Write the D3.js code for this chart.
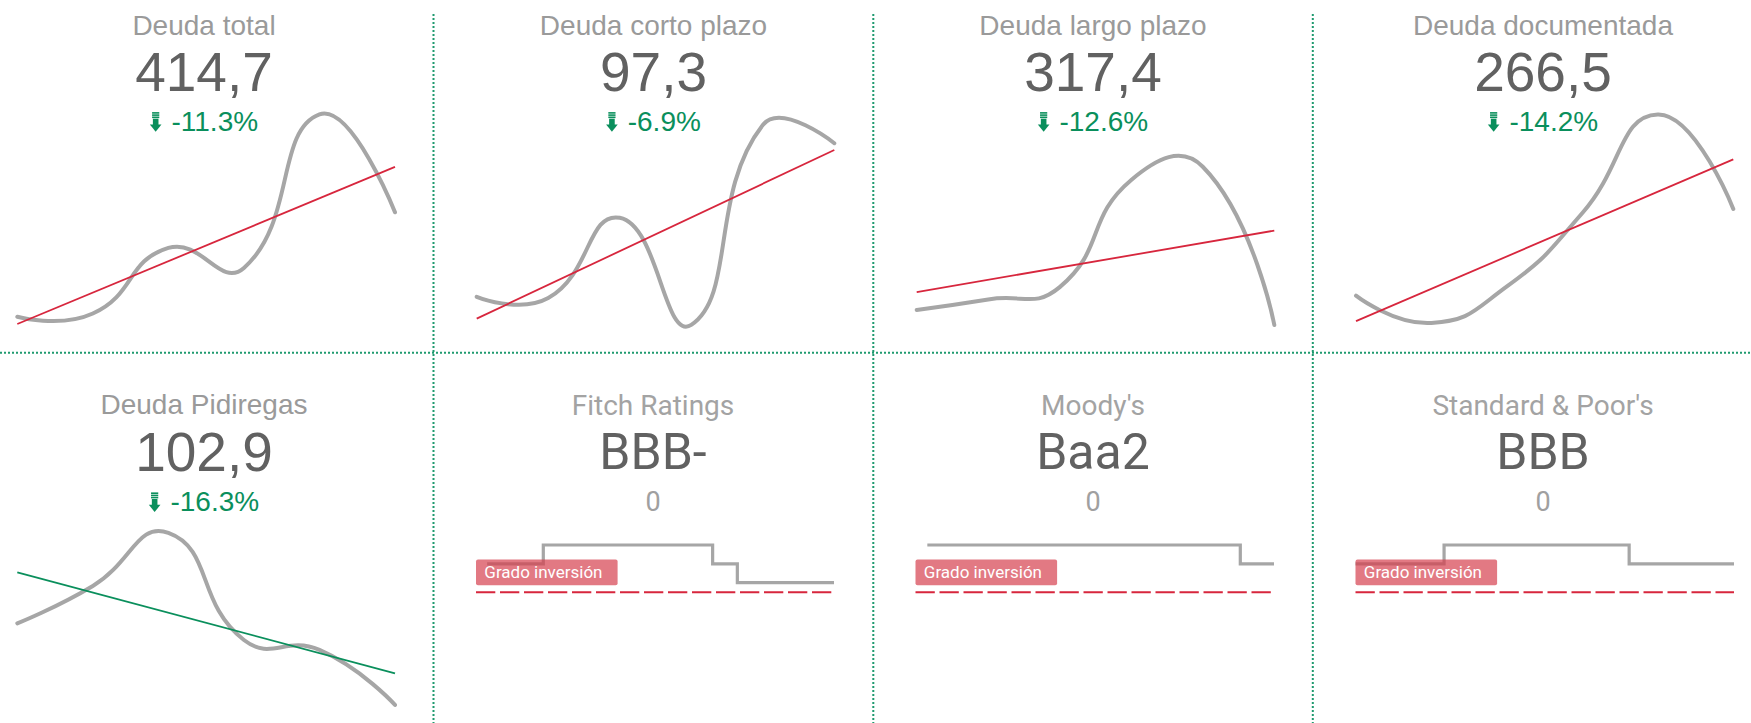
<!DOCTYPE html>
<html><head><meta charset="utf-8">
<script src="https://cdn.jsdelivr.net/npm/d3@7"></script>
<style>html,body{margin:0;padding:0;background:#fff;}svg{display:block}</style>
</head><body>
<svg id="c" width="1751" height="723"></svg>
<script>
// ---------- DATA ----------
const debtTitles = ["Deuda total", "Deuda corto plazo", "Deuda largo plazo", "Deuda documentada", "Deuda Pidiregas"];
const debtValues = ["414,7", "97,3", "317,4", "266,5", "102,9"];
const debtChanges = ["-11.3%", "-6.9%", "-12.6%", "-14.2%", "-16.3%"];
const periods = [1, 2, 3, 4, 5, 6];
const seriesTotal = [6.0, 7.5, 37.3, 28.2, 98.0, 53.5];
const seriesCorto = [15.1, 14.5, 51.0, 2.3, 93.2, 84.9];
const seriesLargo = [9.1, 13.9, 19.5, 68.2, 74.2, 2.3];
const seriesDocumentada = [15.6, 3.2, 19.8, 53.2, 98.0, 55.0];
const seriesPidiregas = [39.4, 56.4, 80.5, 31.8, 27.3, 2.3];
const debtSeries = [seriesTotal, seriesCorto, seriesLargo, seriesDocumentada, seriesPidiregas];

const ratingTitles = ["Fitch Ratings", "Moody's", "Standard & Poor's"];
const ratingValues = ["BBB-", "Baa2", "BBB"];
const ratingSubtitles = ["0", "0", "0"];
// rating level: 1 = BBB-/Baa3, 2 = BBB/Baa2, 3 = BBB+/Baa1 ; x = share of period (0-100)
const fitchHistory = [[3.1, 2], [18.8, 3], [66.1, 2], [73.0, 1], [100, 1]];
const moodysHistory = [[3.3, 3], [90.6, 2], [100, 2]];
const spHistory = [[0, 2], [23.4, 3], [72.3, 2], [100, 2]];
const ratingHistories = [fitchHistory, moodysHistory, spHistory];
const investmentGradeLevel = 0.5;
const investmentLabel = "Grado inversión";

// ---------- LAYOUT / STYLE ----------
const W = 1751, H = 723;
const debtLayout = [
  {cx: 204, x0: 17.3, x1: 395, row: 0},
  {cx: 653.5, x0: 476.7, x1: 834.3, row: 0},
  {cx: 1093, x0: 916.7, x1: 1274.3, row: 0},
  {cx: 1543, x0: 1356, x1: 1733.3, row: 0},
  {cx: 204, x0: 17.3, x1: 395, row: 1}
];
const rowGeom = [
  {title: 35, value: 91, pct: 130.7, yTop: 110, yBot: 330},
  {title: 414, value: 471, pct: 511, yTop: 490, yBot: 710}
];
const ratingLayout = [
  {cx: 653, x0: 476, x1: 834},
  {cx: 1093, x0: 915.5, x1: 1274},
  {cx: 1543, x0: 1355.5, x1: 1734}
];
const C = {
  title: "#9a9a9a", value: "#616161", green: "#0a8f5c", red: "#d7263d",
  line: "#a6a6a6", grid: "#1f9a6f", rtitle: "#a3a3a3", sub: "#a0a0a0"
};
const ARIAL = "'Liberation Sans', Arial, Helvetica, sans-serif";
const ROBOTO = "Roboto, 'Noto Sans', sans-serif";

const svg = d3.select("#c");

// ---------- ECharts-like smooth curve ----------
function SmoothCurve(ctx) { this._context = ctx; }
SmoothCurve.prototype = {
  areaStart() {}, areaEnd() {},
  lineStart() { this._pts = []; },
  point(x, y) { this._pts.push([+x, +y]); },
  lineEnd() {
    const p = this._pts, n = p.length, ctx = this._context, s = 0.5;
    if (!n) return;
    ctx.moveTo(p[0][0], p[0][1]);
    let cp1 = [p[0][0], p[0][1]];
    for (let i = 1; i < n; i++) {
      const cur = p[i];
      let cp0, next1 = null;
      if (i === n - 1) cp0 = [cur[0], cur[1]];
      else {
        const prev = p[i - 1], nxt = p[i + 1];
        const vx = nxt[0] - prev[0], vy = nxt[1] - prev[1];
        const lp = Math.hypot(cur[0] - prev[0], cur[1] - prev[1]);
        const ln = Math.hypot(nxt[0] - cur[0], nxt[1] - cur[1]);
        const r = ln / (ln + lp);
        cp0 = [cur[0] - vx * s * (1 - r), cur[1] - vy * s * (1 - r)];
        next1 = [cur[0] + vx * s * r, cur[1] + vy * s * r];
      }
      ctx.bezierCurveTo(cp1[0], cp1[1], cp0[0], cp0[1], cur[0], cur[1]);
      cp1 = next1;
    }
  }
};
const curveSmooth = ctx => new SmoothCurve(ctx);

// ---------- grid dividers ----------
const grid = svg.append("g").attr("stroke", C.grid).attr("stroke-width", 2).attr("stroke-dasharray", "2,2");
[433.5, 873.3, 1312.8].forEach(x => grid.append("line").attr("x1", x).attr("x2", x).attr("y1", 14).attr("y2", H));
grid.append("line").attr("x1", 0).attr("x2", W).attr("y1", 352.8).attr("y2", 352.8);

// ---------- icon ----------
function drawArrow(g, x, yBase) {
  const t = yBase - 18.6, cx = x + 5.8;
  const ic = g.append("g").attr("fill", C.green);
  [0, 2.2, 4.4].forEach(d => ic.append("rect").attr("x", cx - 3.6).attr("y", t + d).attr("width", 7.2).attr("height", 1.6));
  ic.append("rect").attr("x", cx - 2.8).attr("y", t + 6.6).attr("width", 5.6).attr("height", 6.4);
  ic.append("path").attr("d", `M${x},${t + 12.4}L${x + 11.6},${t + 12.4}L${cx},${t + 19.6}Z`);
}

// ---------- debt panels ----------
debtSeries.forEach((vals, i) => {
  const L = debtLayout[i], R = rowGeom[L.row];
  const g = svg.append("g");
  g.append("text").attr("x", L.cx).attr("y", R.title).attr("text-anchor", "middle")
    .style("font-family", ARIAL).style("font-size", "28px").attr("fill", C.title).text(debtTitles[i]);
  g.append("text").attr("x", L.cx).attr("y", R.value).attr("text-anchor", "middle")
    .style("font-family", ARIAL).style("font-size", "55px").attr("fill", C.value).text(debtValues[i]);
  const pt = g.append("text").attr("y", R.pct).style("font-family", ARIAL).style("font-size", "28px")
    .attr("fill", C.green).text(debtChanges[i]);
  const tw = pt.node().getComputedTextLength();
  const total = 11.6 + 10 + tw;
  const left = L.cx - total / 2;
  pt.attr("x", left + 21.6);
  drawArrow(g, left, R.pct);

  const x = d3.scaleLinear().domain(d3.extent(periods)).range([L.x0, L.x1]);
  const y = d3.scaleLinear().domain([0, 100]).range([R.yBot, R.yTop]);
  const data = periods.map((p, k) => [p, vals[k]]);
  g.append("path").datum(data).attr("fill", "none").attr("stroke", C.line).attr("stroke-width", 4)
    .attr("stroke-linecap", "round")
    .attr("d", d3.line().x(d => x(d[0])).y(d => y(d[1])).curve(curveSmooth));
  // linear regression trend
  const mx = d3.mean(periods), my = d3.mean(vals);
  const slope = d3.sum(periods, (p, k) => (p - mx) * (vals[k] - my)) / d3.sum(periods, p => (p - mx) ** 2);
  const icpt = my - slope * mx;
  const ends = d3.extent(periods).map(p => [p, icpt + slope * p]);
  g.append("path").datum(ends).attr("fill", "none").attr("stroke", slope > 0 ? C.red : C.green)
    .attr("stroke-width", 1.8).attr("d", d3.line().x(d => x(d[0])).y(d => y(d[1])));
});

// ---------- rating panels ----------
ratingHistories.forEach((hist, i) => {
  const L = ratingLayout[i];
  const g = svg.append("g");
  g.append("text").attr("x", L.cx).attr("y", 415).attr("text-anchor", "middle")
    .style("font-family", ROBOTO).style("font-size", "28px").attr("fill", C.rtitle).text(ratingTitles[i]);
  g.append("text").attr("x", L.cx).attr("y", 469).attr("text-anchor", "middle")
    .style("font-family", ROBOTO).style("font-size", "50px").attr("fill", C.value).text(ratingValues[i]);
  g.append("text").attr("x", L.cx).attr("y", 510.7).attr("text-anchor", "middle")
    .style("font-family", ROBOTO).style("font-size", "27px").attr("fill", C.sub).text(ratingSubtitles[i]);

  const x = d3.scaleLinear().domain([0, 100]).range([L.x0, L.x1]);
  const y = d3.scaleLinear().domain([1, 3]).range([582.7, 545]);
  const ly = y(investmentGradeLevel);
  g.append("line").attr("x1", x(0)).attr("x2", x(100)).attr("y1", ly).attr("y2", ly)
    .attr("stroke", C.red).attr("stroke-width", 2).attr("stroke-dasharray", "19.3,4.7");
  g.append("path").datum(hist).attr("fill", "none").attr("stroke", C.line).attr("stroke-width", 3.2)
    .attr("d", d3.line().x(d => x(d[0])).y(d => y(d[1])).curve(d3.curveStepAfter));
  g.append("rect").attr("x", x(0)).attr("y", ly - 32.7).attr("width", 141.6).attr("height", 25.7)
    .attr("rx", 2).attr("fill", "rgba(214,64,78,0.7)");
  g.append("text").attr("x", x(0) + 8.3).attr("y", ly - 13.7)
    .style("font-family", ROBOTO).style("font-size", "17px").attr("fill", "#fff").text(investmentLabel);
});
</script>
</body></html>
